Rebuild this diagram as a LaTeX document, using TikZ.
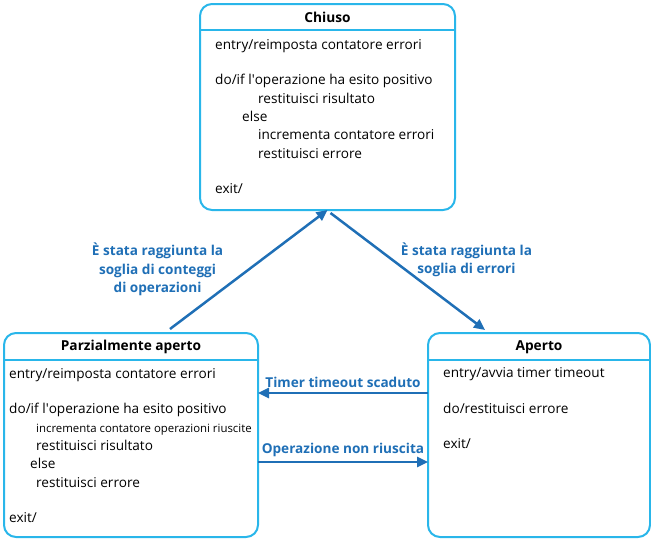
\documentclass[tikz,border=0pt]{standalone}
\usepackage{fontspec}
\setmainfont{Open Sans}
\usetikzlibrary{positioning,arrows.meta}
\definecolor{boxblue}{RGB}{41,182,234}
\definecolor{arrowblue}{RGB}{31,111,182}
\begin{document}
\begin{tikzpicture}[x=1pt,y=-1pt,
  statebox/.style={draw=boxblue,line width=2pt,rounded corners=12pt,inner sep=0pt,outer sep=0pt},
  boxline/.style={draw=boxblue,line width=2pt},
  statetitle/.style={font=\fontsize{13.7}{15}\selectfont\bfseries},
  statetext/.style={font=\fontsize{13.6}{18.3}\selectfont,align=left,anchor=north west,inner sep=0pt},
  trans/.style={draw=arrowblue,line width=2.5pt,-{Triangle[length=11pt,width=10pt]}},
  translabel/.style={text=arrowblue,font=\fontsize{13.6}{18.5}\selectfont\bfseries,align=center}]

  \useasboundingbox (0,0) rectangle (651,539);

  % stati
  \node[statebox,minimum width=255pt,minimum height=206pt] (chiuso) at (327.5,107) {};
  \node[statebox,minimum width=254pt,minimum height=204pt] (parz) at (131,435) {};
  \node[statebox,minimum width=222pt,minimum height=204pt] (aperto) at (539,435) {};

  \node[statetitle] (chiusoT) at ([yshift=-13.5pt]chiuso.north) {Chiuso};
  \node[statetitle] (parzT) at ([yshift=-14pt]parz.north) {Parzialmente aperto};
  \node[statetitle] (apertoT) at ([yshift=-14pt]aperto.north) {Aperto};

  \draw[boxline] ([yshift=-26pt]chiuso.north west) -- ([yshift=-26pt]chiuso.north east);
  \draw[boxline] ([yshift=-27pt]parz.north west) -- ([yshift=-27pt]parz.north east);
  \draw[boxline] ([yshift=-27pt]aperto.north west) -- ([yshift=-27pt]aperto.north east);

  \node[statetext] (chiusoB) at ([xshift=15pt,yshift=-35.5pt]chiuso.north west) {%
    entry/reimposta contatore errori\\[17pt]
    do/if l\textquotesingle operazione ha esito positivo\\
    \hspace*{43pt}restituisci risultato\\
    \hspace*{27pt}else\\
    \hspace*{43pt}incrementa contatore errori\\
    \hspace*{43pt}restituisci errore\\[17pt]
    exit/};

  \node[statetext] (parzB) at ([xshift=5pt,yshift=-35.5pt]parz.north west) {%
    entry/reimposta contatore errori\\[17pt]
    do/if l\textquotesingle operazione ha esito positivo\\
    \hspace*{27pt}{\fontsize{11.4}{18.3}\selectfont incrementa contatore operazioni riuscite}\\
    \hspace*{27pt}restituisci risultato\\
    \hspace*{21pt}else\\
    \hspace*{27pt}restituisci errore\\[17pt]
    exit/};

  \node[statetext] (apertoB) at ([xshift=15pt,yshift=-34.5pt]aperto.north west) {%
    entry/avvia timer timeout\\[17.5pt]
    do/restituisci errore\\[17pt]
    exit/};

  % transizioni
  \draw[trans] ([xshift=39pt,yshift=4pt]parz.north) -- (chiuso.south)
    node[translabel,midway,left=21pt] {È stata raggiunta la\\soglia di conteggi\\di operazioni};
  \draw[trans] ([xshift=3pt,yshift=-3pt]chiuso.south) -- ([xshift=-54pt,yshift=3pt]aperto.north)
    node[translabel,pos=0.4,right=4pt] {È stata raggiunta la\\soglia di errori};
  \draw[trans] ([yshift=42pt]aperto.west) -- ([yshift=42pt]parz.east)
    node[translabel,midway,above=1pt] {Timer timeout scaduto};
  \draw[trans] ([yshift=-27pt]parz.east) -- ([yshift=-27pt]aperto.west)
    node[translabel,midway,above=1pt] {Operazione non riuscita};

\end{tikzpicture}
\end{document}
